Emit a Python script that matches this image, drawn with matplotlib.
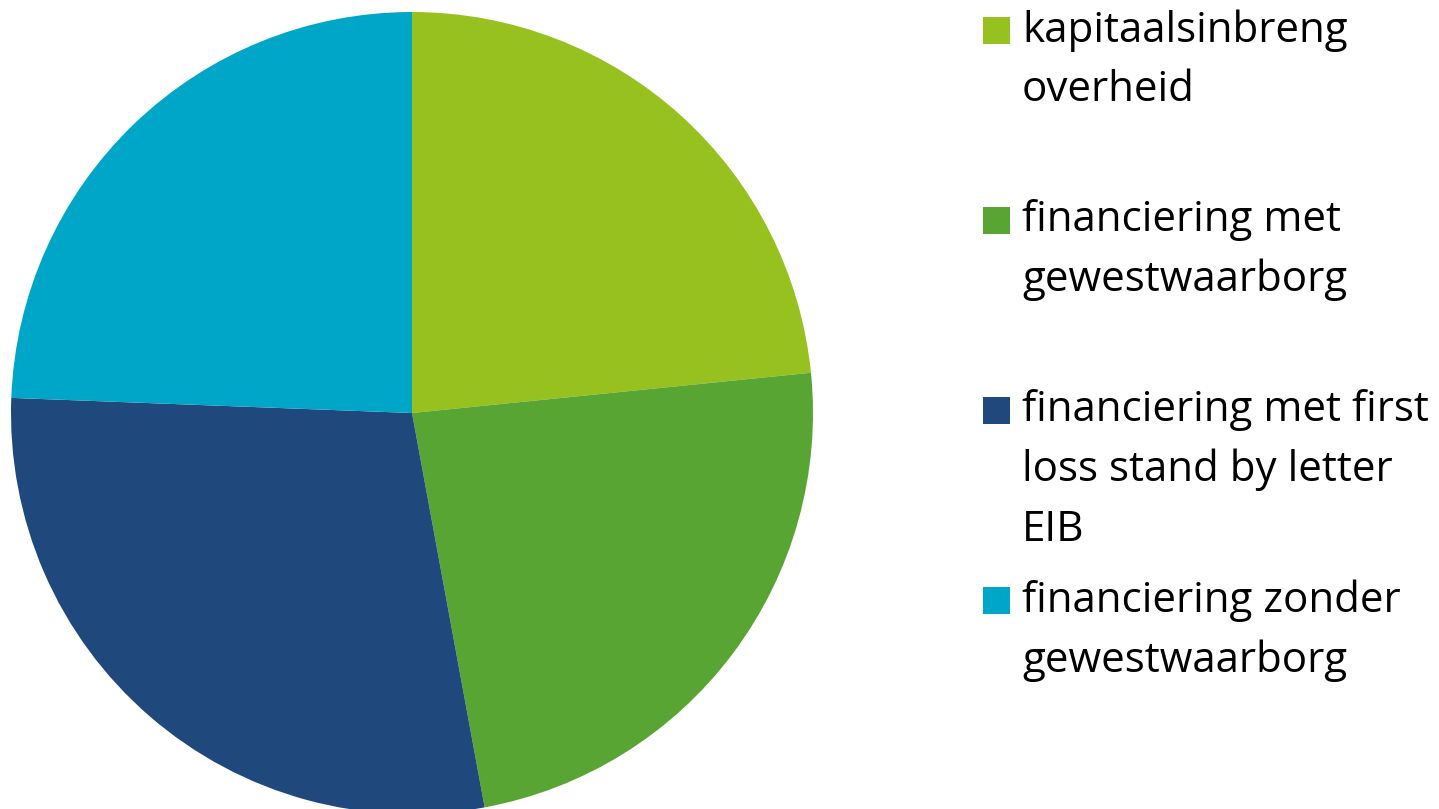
import matplotlib.pyplot as plt
from matplotlib.patches import Rectangle

W, H = 1439, 809

labels = [
    "kapitaalsinbreng\noverheid",
    "financiering met\ngewestwaarborg",
    "financiering met first\nloss stand by letter\nEIB",
    "financiering zonder\ngewestwaarborg",
]
shares = [23.4, 23.7, 28.5, 24.4]
colors = ["#97C11F", "#59A534", "#1F497D", "#00A6C8"]

plt.rcParams["font.family"] = ["Open Sans", "DejaVu Sans"]

fig = plt.figure(figsize=(W / 100, H / 100), dpi=100)
ax = fig.add_axes([0, 0, 1, 1])

# pie in pixel coordinates (y up)
ax.pie(shares, colors=colors, startangle=90, counterclock=False,
       center=(412, H - 413), radius=401, wedgeprops={"linewidth": 0})
ax.set_xlim(0, W)
ax.set_ylim(0, H)
ax.set_aspect("equal")
ax.axis("off")

# legend, drawn by hand
sq_tops = [17, 207, 397, 587]
for lab, col, top in zip(labels, colors, sq_tops):
    ax.add_patch(Rectangle((983, H - top - 27), 27, 27, color=col, lw=0))
    ax.text(1022, H - top + 8, lab, ha="left", va="top", fontsize=30.3,
            linespacing=1.55, color="black")

fig.savefig("out.png", dpi=100)
